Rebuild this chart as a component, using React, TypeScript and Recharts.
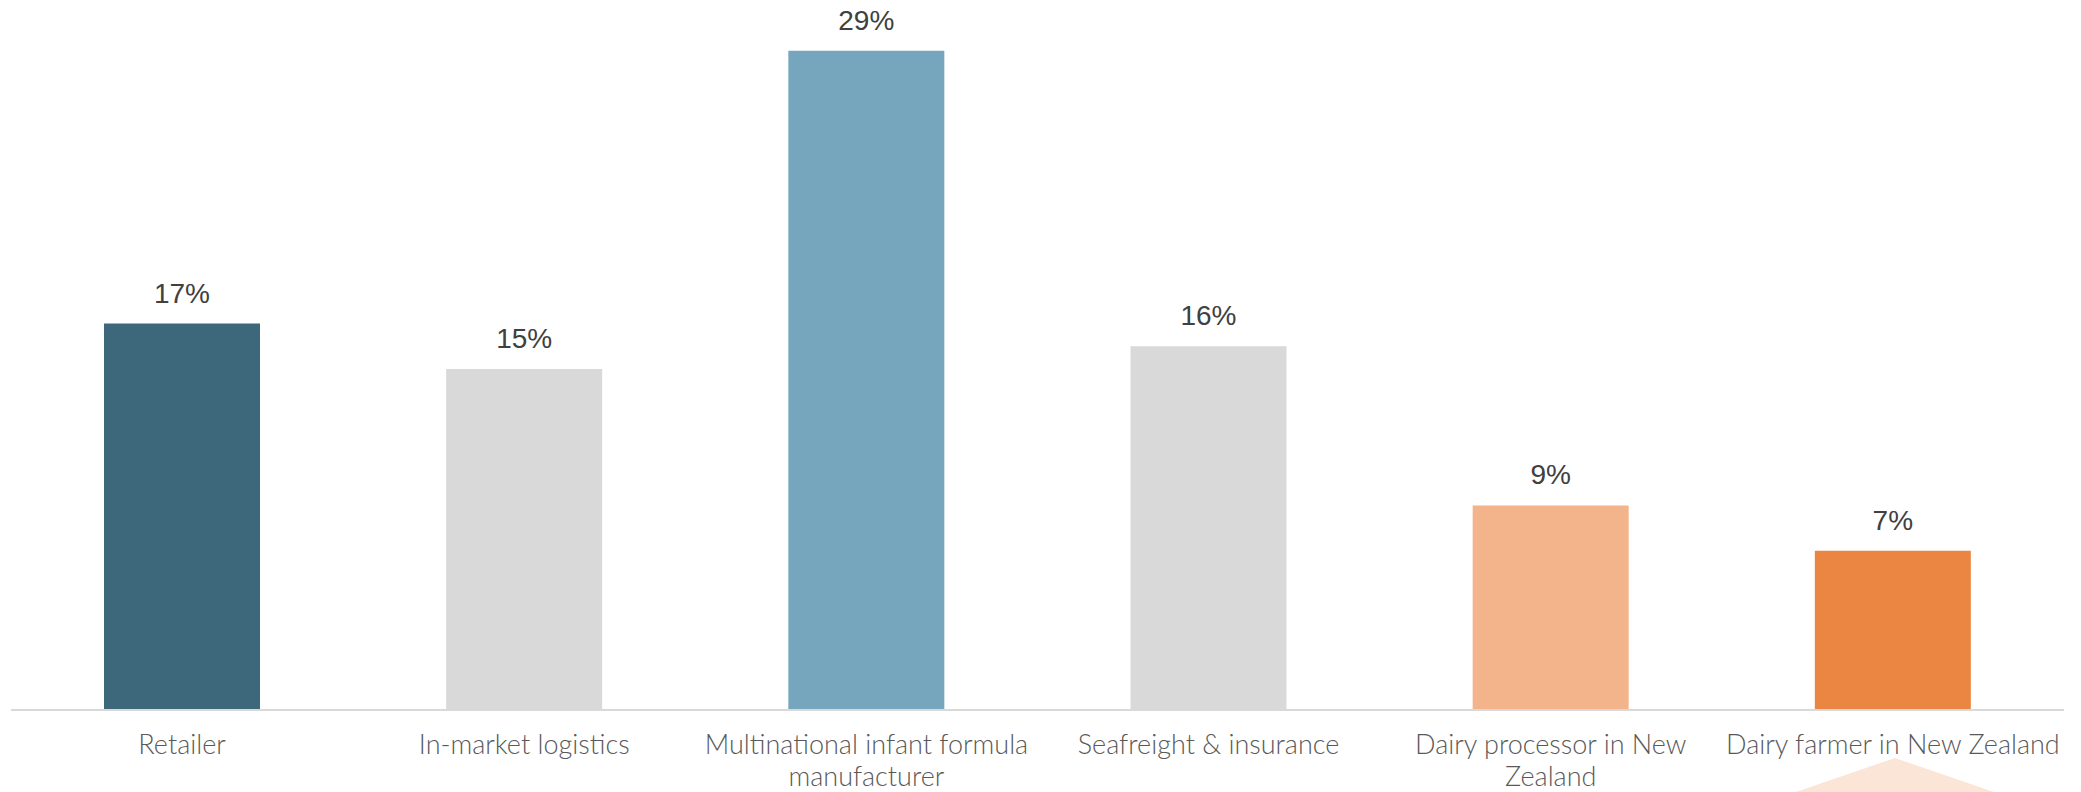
import React from "react";
import { BarChart, Bar, XAxis, YAxis, Cell, LabelList } from "recharts";

const categories = [
  "Retailer",
  "In-market logistics",
  "Multinational infant formula\nmanufacturer",
  "Seafreight & insurance",
  "Dairy processor in New\nZealand",
  "Dairy farmer in New Zealand",
];
const shares = [17, 15, 29, 16, 9, 7];
const barColors = ["#3D687C", "#D9D9D9", "#75A6BE", "#D9D9D9", "#F3B48C", "#EB8642"];
const highlightIndex = 5;

const data = categories.map((name, i) => ({ name, value: shares[i] }));

const CategoryTick = (props: any) => {
  const { x, y, payload, index } = props;
  const lines = String(payload.value).split("\n");
  return (
    <g>
      {index === highlightIndex && (
        <polygon
          points={`${x + 2},${y + 48} ${x + 101},${y + 82} ${x - 97},${y + 82}`}
          fill="#FBE5D6"
        />
      )}
      <text
        x={x}
        y={y}
        textAnchor="middle"
        fill="#595959"
        fontFamily="Lato, Roboto, sans-serif"
        fontWeight={300}
        fontSize={27}
      >
        {lines.map((line, i) => (
          <tspan key={i} x={x} dy={i === 0 ? 44 : 32}>
            {line}
          </tspan>
        ))}
      </text>
    </g>
  );
};

const formatPct = (v: any) => `${v}%`;

export default function App() {
  return (
    <div style={{ width: 2081, height: 792, background: "#fff" }}>
      <style>{`body{margin:0;}`}</style>
      <BarChart
        width={2081}
        height={792}
        data={data}
        margin={{ top: 28, right: 17, bottom: 0, left: 11 }}
        barSize={156}
      >
        <YAxis hide domain={[0, 30]} />
        <XAxis
          dataKey="name"
          height={82}
          axisLine={{ stroke: "#D9D9D9", strokeWidth: 2 }}
          tickLine={false}
          tickSize={0}
          tickMargin={0}
          interval={0}
          tick={<CategoryTick />}
        />
        <Bar dataKey="value" isAnimationActive={false}>
          {data.map((d, i) => (
            <Cell key={d.name} fill={barColors[i]} />
          ))}
          <LabelList
            dataKey="value"
            position="top"
            offset={21}
            formatter={formatPct}
            fill="#404040"
            fontSize={28}
            fontFamily="'Liberation Sans', Arial, sans-serif"
          />
        </Bar>
      </BarChart>
    </div>
  );
}
